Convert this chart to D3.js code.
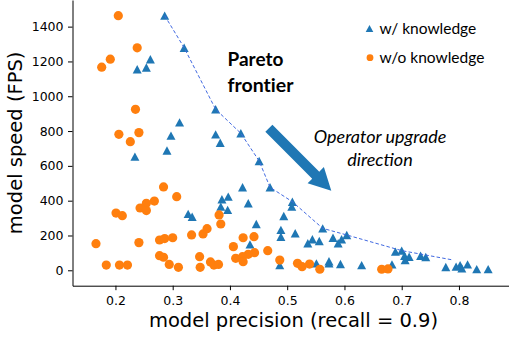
<!DOCTYPE html>
<html>
<head>
<meta charset="utf-8">
<script src="https://cdn.jsdelivr.net/npm/d3@7"></script>
<style>
  body { margin: 0; background: #fff; }
  .axis path, .axis line { stroke: #000; stroke-width: 1; }
  .axis-label { font-family: "DejaVu Sans", sans-serif; font-size: 19.5px; fill: #000; }
  .note { font-family: Lato, "Open Sans", sans-serif; fill: #000; }
</style>
</head>
<body>
<div id="chart"></div>
<script>
// w/ knowledge points: [precision, fps]
var withKnowledge = [
  [0.286, 1463], [0.320, 1279], [0.261, 1213], [0.238, 1155], [0.254, 1165],
  [0.375, 925], [0.312, 850], [0.297, 774], [0.375, 781], [0.383, 733],
  [0.290, 688], [0.234, 653], [0.419, 787], [0.451, 628],
  [0.422, 477], [0.470, 477], [0.397, 423], [0.386, 408], [0.384, 366],
  [0.396, 347], [0.432, 385], [0.509, 394], [0.508, 366], [0.494, 312],
  [0.446, 266], [0.489, 232], [0.489, 193], [0.514, 213], [0.435, 149],
  [0.327, 324], [0.334, 308],
  [0.562, 241], [0.544, 178], [0.536, 155], [0.556, 168], [0.580, 187],
  [0.589, 155], [0.604, 203], [0.595, 178],
  [0.487, 30], [0.551, 40], [0.573, 40], [0.573, 52], [0.593, 36], [0.630, 30],
  [0.683, 34], [0.689, 107], [0.700, 113], [0.705, 84], [0.713, 78],
  [0.706, 59], [0.733, 84], [0.742, 76], [0.777, 19], [0.795, 21],
  [0.802, 30], [0.805, 11], [0.815, 34], [0.831, 7], [0.851, 7]
];

// w/o knowledge points: [precision, fps]
var withoutKnowledge = [
  [0.205, 1463], [0.238, 1278], [0.191, 1213], [0.176, 1167], [0.235, 925],
  [0.206, 781], [0.241, 791], [0.226, 739],
  [0.284, 479], [0.307, 423], [0.268, 398], [0.254, 385], [0.243, 358],
  [0.254, 343], [0.201, 329], [0.212, 314],
  [0.166, 153], [0.241, 159], [0.277, 174], [0.286, 182], [0.300, 187],
  [0.333, 203], [0.353, 209], [0.360, 239], [0.381, 318], [0.384, 266],
  [0.277, 84], [0.284, 75], [0.294, 34], [0.310, 17], [0.184, 30],
  [0.207, 30], [0.221, 30], [0.347, 78], [0.348, 17], [0.366, 48],
  [0.372, 30], [0.380, 34],
  [0.423, 187], [0.442, 193], [0.406, 136], [0.466, 113], [0.443, 101],
  [0.432, 92], [0.410, 69], [0.422, 78], [0.423, 49],
  [0.487, 59], [0.518, 40], [0.526, 21], [0.539, 36], [0.557, 6],
  [0.665, 6], [0.676, 8]
];

// pareto frontier (dashed line)
var frontier = [
  [0.286, 1463], [0.320, 1279], [0.375, 925], [0.419, 787], [0.451, 628],
  [0.470, 477], [0.509, 394], [0.562, 241], [0.604, 203], [0.700, 113],
  [0.790, 59]
];

var xTicks = [0.2, 0.3, 0.4, 0.5, 0.6, 0.7, 0.8];
var yTicks = [0, 200, 400, 600, 800, 1000, 1200, 1400];

// arrow "operator upgrade direction", in data units
var arrowFrom = [0.468, 816];
var arrowTo = [0.577, 457];

var blue = "#1f77b4", orange = "#ff7f0e";

var W = 509, H = 339;
var plotLeft = 72.5, plotRight = 514.5, plotTop = 0, plotBottom = 285.7;

var svg = d3.select("#chart").append("svg")
    .attr("width", W)
    .attr("height", H);

var x = d3.scaleLinear().domain([0.125, 0.897]).range([plotLeft, plotRight]);
var y = d3.scaleLinear().domain([-88.5, 1553]).range([plotBottom, plotTop]);

// triangle marker like matplotlib '^'
function tri(cx, cy, hw, hh) {
    return "M" + cx + "," + (cy - hh) + "L" + (cx + hw) + "," + (cy + hh) +
        "L" + (cx - hw) + "," + (cy + hh) + "Z";
}

// axes
svg.append("g")
    .attr("class", "axis")
    .attr("transform", "translate(0," + plotBottom + ")")
    .call(d3.axisBottom(x).tickValues(xTicks).tickSize(4.5).tickSizeOuter(0).tickPadding(6)
        .tickFormat(d3.format(".1f")))
    .attr("font-family", "DejaVu Sans")
    .attr("font-size", 12.5);

svg.append("g")
    .attr("class", "axis")
    .attr("transform", "translate(" + plotLeft + ",0)")
    .call(d3.axisLeft(y).tickValues(yTicks).tickSize(4.5).tickSizeOuter(0).tickPadding(4.5)
        .tickFormat(d3.format("d")))
    .attr("font-family", "DejaVu Sans")
    .attr("font-size", 12.5);

// scatter: w/ knowledge
svg.append("g").selectAll("path")
    .data(withKnowledge)
    .enter().append("path")
    .attr("d", function(d) { return tri(x(d[0]), y(d[1]), 4.5, 4.2); })
    .attr("fill", blue);

// scatter: w/o knowledge
svg.append("g").selectAll("circle")
    .data(withoutKnowledge)
    .enter().append("circle")
    .attr("cx", function(d) { return x(d[0]); })
    .attr("cy", function(d) { return y(d[1]); })
    .attr("r", 4.6)
    .attr("fill", orange);

// pareto frontier
var line = d3.line()
    .x(function(d) { return x(d[0]); })
    .y(function(d) { return y(d[1]); });

svg.append("path")
    .datum(frontier)
    .attr("d", line)
    .attr("fill", "none")
    .attr("stroke", "#4169e1")
    .attr("stroke-width", 1)
    .attr("stroke-dasharray", "3.5,2.2");

// arrow
var x0 = x(arrowFrom[0]), y0 = y(arrowFrom[1]);
var x1 = x(arrowTo[0]), y1 = y(arrowTo[1]);
var len = Math.hypot(x1 - x0, y1 - y0);
var ux = (x1 - x0) / len, uy = (y1 - y0) / len;
var nx = -uy, ny = ux;
var shaftW = 5, headW = 11.5, headL = 22;
var bx = x1 - ux * headL, by = y1 - uy * headL;
var arrowPts = [
    [x0 + nx * shaftW, y0 + ny * shaftW],
    [bx + nx * shaftW, by + ny * shaftW],
    [bx + nx * headW, by + ny * headW],
    [x1, y1],
    [bx - nx * headW, by - ny * headW],
    [bx - nx * shaftW, by - ny * shaftW],
    [x0 - nx * shaftW, y0 - ny * shaftW]
];
svg.append("path")
    .attr("d", "M" + arrowPts.join("L") + "Z")
    .attr("fill", blue);

// axis labels
svg.append("text")
    .attr("class", "axis-label")
    .attr("x", (plotLeft + plotRight) / 2)
    .attr("y", 327)
    .attr("text-anchor", "middle")
    .text("model precision (recall = 0.9)");

svg.append("text")
    .attr("class", "axis-label")
    .attr("transform", "translate(22," + ((plotTop + plotBottom) / 2) + ") rotate(-90)")
    .attr("text-anchor", "middle")
    .text("model speed (FPS)");

// legend
var legend = svg.append("g");
legend.append("path")
    .attr("d", tri(369.5, 28.5, 3.8, 3.4))
    .attr("fill", blue);
legend.append("circle")
    .attr("cx", 370).attr("cy", 57.7).attr("r", 3.4)
    .attr("fill", orange);
legend.append("text").attr("class", "note")
    .attr("x", 379.5).attr("y", 34)
    .style("font-size", "15.5px")
    .text("w/ knowledge");
legend.append("text").attr("class", "note")
    .attr("x", 379.5).attr("y", 63.3)
    .style("font-size", "15.5px")
    .text("w/o knowledge");

// annotations
svg.append("text").attr("class", "note")
    .attr("x", 227.5).attr("y", 65.7)
    .style("font-size", "19px").style("font-weight", "bold")
    .text("Pareto");
svg.append("text").attr("class", "note")
    .attr("x", 227.5).attr("y", 91.7)
    .style("font-size", "19.5px").style("font-weight", "bold")
    .style("font-variant-ligatures", "none")
    .text("frontier");

svg.append("text").attr("class", "note")
    .attr("x", 380).attr("y", 143.3)
    .attr("text-anchor", "middle")
    .style("font-size", "18px").style("font-style", "italic")
    .text("Operator upgrade");
svg.append("text").attr("class", "note")
    .attr("x", 380).attr("y", 165.7)
    .attr("text-anchor", "middle")
    .style("font-size", "18px").style("font-style", "italic")
    .text("direction");
</script>
</body>
</html>
